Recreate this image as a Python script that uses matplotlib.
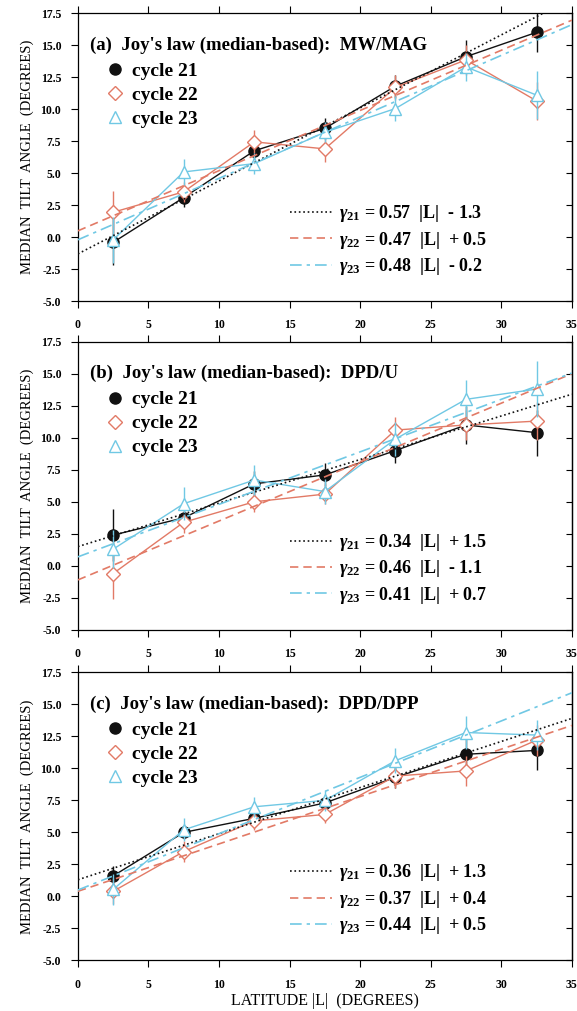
import matplotlib
matplotlib.use("Agg")
import matplotlib.pyplot as plt
from matplotlib.lines import Line2D
import numpy as np

plt.rcParams['font.family'] = ['Liberation Serif', 'DejaVu Serif']
plt.rcParams['font.weight'] = 'bold'
plt.rcParams['mathtext.fontset'] = 'custom'
plt.rcParams['mathtext.rm'] = 'Liberation Serif:bold'
plt.rcParams['mathtext.it'] = 'Liberation Serif:italic:bold'
plt.rcParams['mathtext.bf'] = 'Liberation Serif:bold'

latitude = [2.5, 7.5, 12.5, 17.5, 22.5, 27.5, 32.5]

titles = ["(a)  Joy's law (median-based):  MW/MAG",
          "(b)  Joy's law (median-based):  DPD/U",
          "(c)  Joy's law (median-based):  DPD/DPP"]

# panel a: MW/MAG
a_c21 = [-0.4, 3.1, 6.75, 8.5, 11.8, 14.1, 16.0]
a_c22 = [1.95, 3.55, 7.45, 6.9, 11.7, 13.85, 10.65]
a_c23 = [-0.2, 5.1, 5.75, 8.2, 10.05, 13.3, 11.1]
a_e21 = [1.8, 0.7, 0.8, 0.8, 0.9, 1.3, 1.5]
a_e22 = [1.7, 0.8, 0.9, 1.0, 1.0, 1.2, 1.5]
a_e23 = [1.8, 1.0, 0.8, 0.8, 1.0, 1.1, 1.9]
a_fit = [(0.57, -1.3), (0.47, 0.5), (0.48, -0.2)]

# panel b: DPD/U
b_c21 = [2.4, 3.75, 6.4, 7.1, 9.0, 11.0, 10.4]
b_c22 = [-0.6, 3.4, 5.0, 5.6, 10.6, 11.0, 11.3]
b_c23 = [1.3, 4.85, 6.7, 5.8, 9.9, 13.0, 13.8]
b_e21 = [2.0, 0.8, 1.0, 0.9, 1.0, 1.5, 1.8]
b_e22 = [2.0, 0.8, 0.8, 0.8, 1.0, 1.2, 1.5]
b_e23 = [1.5, 1.3, 1.2, 1.0, 1.3, 1.5, 2.2]
b_fit = [(0.34, 1.5), (0.46, -1.1), (0.41, 0.7)]

# panel c: DPD/DPP
c_c21 = [1.6, 5.0, 6.1, 7.3, 9.3, 11.1, 11.4]
c_c22 = [0.4, 3.5, 5.9, 6.4, 9.4, 9.8, 12.2]
c_c23 = [0.55, 5.2, 7.0, 7.5, 10.6, 12.8, 12.6]
c_e21 = [0.8, 0.5, 0.6, 0.6, 0.8, 1.3, 1.5]
c_e22 = [1.0, 0.8, 0.7, 0.7, 0.9, 1.2, 1.2]
c_e23 = [1.2, 0.9, 0.8, 0.8, 1.0, 1.3, 1.2]
c_fit = [(0.36, 1.3), (0.37, 0.4), (0.44, 0.5)]

series_labels = ["cycle 21", "cycle 22", "cycle 23"]
fit_sub = ["21", "22", "23"]

x_ticks = [0, 5, 10, 15, 20, 25, 30, 35]
y_ticks = [-5.0, -2.5, 0.0, 2.5, 5.0, 7.5, 10.0, 12.5, 15.0, 17.5]

BLACK = "#111111"
RED = "#e27a66"
CYAN = "#70c8e4"
colors = [BLACK, RED, CYAN]
markers = ["o", "D", "^"]
mfc = [BLACK, "white", "white"]
msizes = [8, 7, 9]
fit_styles = [":", (0, (5, 3)), (0, (7, 3, 2, 3))]

panels = [
    (titles[0], [a_c21, a_c22, a_c23], [a_e21, a_e22, a_e23], a_fit),
    (titles[1], [b_c21, b_c22, b_c23], [b_e21, b_e22, b_e23], b_fit),
    (titles[2], [c_c21, c_c22, c_c23], [c_e21, c_e22, c_e23], c_fit),
]

fig = plt.figure(figsize=(5.77, 10.11), dpi=100)
left, width = 0.135, 0.856
bottoms = [0.702, 0.377, 0.050]
height = 0.285

xfit = np.array([0.0, 35.0])

for i, (title, vals, errs, fits) in enumerate(panels):
    ax = fig.add_axes([left, bottoms[i], width, height])
    handles = []
    for k in range(3):
        ax.errorbar(latitude, vals[k], yerr=errs[k], color=colors[k], lw=1.0,
                    elinewidth=1.0, capsize=0, marker=markers[k], ms=msizes[k],
                    mfc=mfc[k], mec=colors[k], mew=1.0, zorder=2 + k)
        handles.append(Line2D([], [], ls='none', marker=markers[k], ms=msizes[k],
                              mfc=mfc[k], mec=colors[k], mew=1.0))
    fit_handles = []
    fit_labels = []
    for k in range(3):
        s, b = fits[k]
        ax.plot(xfit, s * xfit + b, color=colors[k], ls=fit_styles[k], lw=1.2, zorder=6)
        fit_handles.append(Line2D([], [], color=colors[k], ls=fit_styles[k], lw=1.2))
        sign = "+" if b >= 0 else "-"
        fit_labels.append(r"$\gamma_{%s}$ = %.2f  |L|  %s %.1f" % (fit_sub[k], s, sign, abs(b)))

    ax.set_xlim(0, 35)
    ax.set_ylim(-5, 17.5)
    ax.set_xticks(x_ticks)
    ax.set_yticks(y_ticks)
    ax.set_xticklabels([str(t) for t in x_ticks])
    ax.set_yticklabels(["%.1f" % t for t in y_ticks])
    ax.tick_params(axis='both', labelsize=8.5, width=0.8)
    ax.tick_params(axis='y', which='major', direction='out', length=5, pad=7)
    ax.tick_params(axis='x', which='major', direction='out', length=5, top=True, pad=8)
    sec = ax.secondary_yaxis('right')
    sec.set_yticks(y_ticks)
    sec.tick_params(direction='in', length=4, width=0.8, labelright=False)
    for sp in list(ax.spines.values()) + list(sec.spines.values()):
        sp.set_linewidth(0.9)
    ax.set_ylabel("MEDIAN  TILT  ANGLE  (DEGREES)", fontsize=10.5, labelpad=5)

    ax.text(0.024, 0.889, title, transform=ax.transAxes, fontsize=13.5,
            ha='left', va='center')

    leg1 = ax.legend(handles, series_labels, loc='upper left',
                     bbox_to_anchor=(0.055, 0.83), frameon=False, fontsize=14,
                     handlelength=1.0, handletextpad=0.4, labelspacing=0.33,
                     borderpad=0, borderaxespad=0)
    ax.add_artist(leg1)
    ax.legend(fit_handles, fit_labels, loc='upper left',
              bbox_to_anchor=(0.43, 0.34), frameon=False, fontsize=13,
              handlelength=2.3, handletextpad=0.4, labelspacing=0.3,
              borderpad=0, borderaxespad=0)

    if i == 2:
        ax.set_xlabel("LATITUDE |L|  (DEGREES)", fontsize=11.5, labelpad=2)

fig.savefig("out.png", dpi=100)
